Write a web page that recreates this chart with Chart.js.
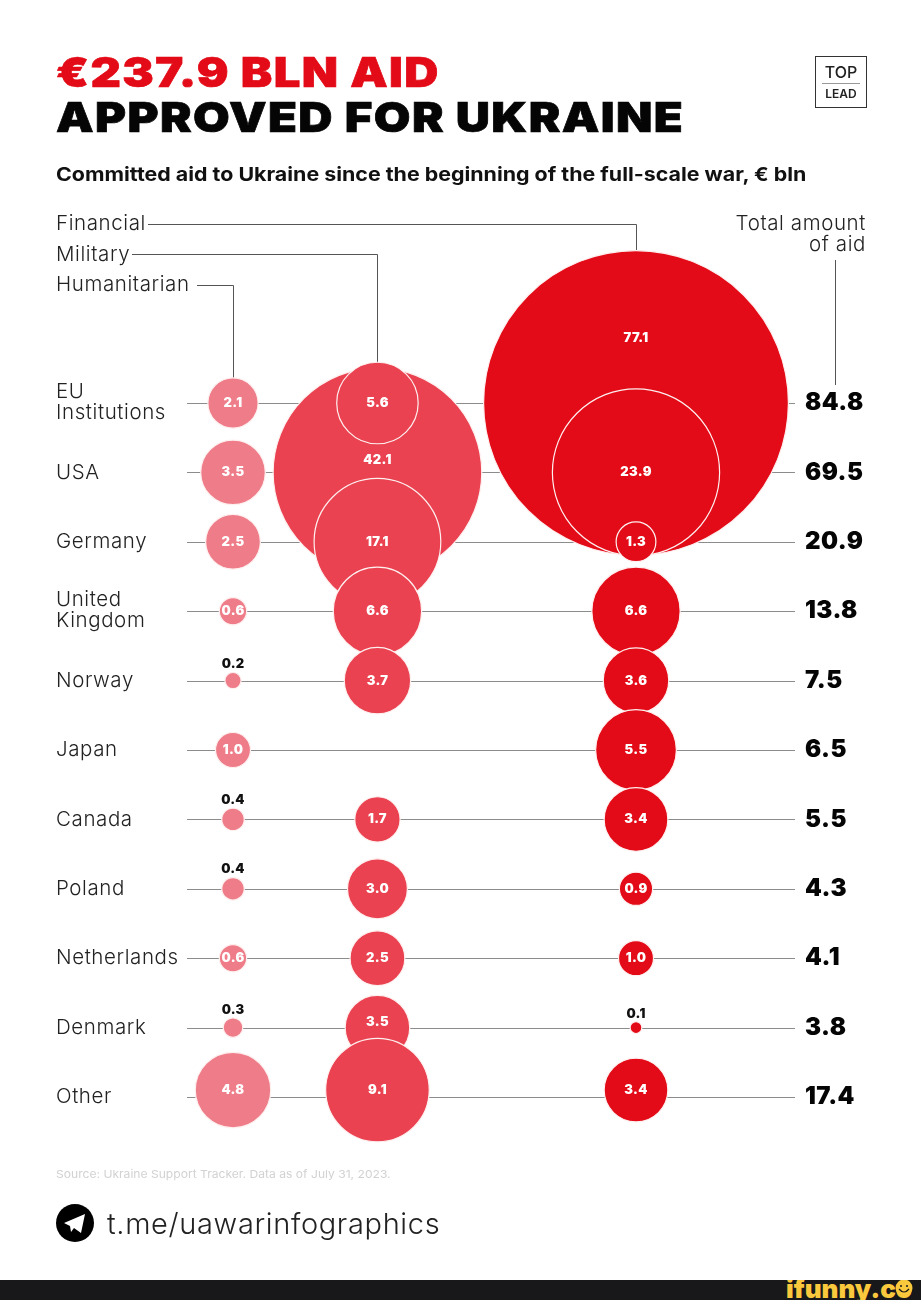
<!DOCTYPE html>
<html>
<head>
<meta charset="utf-8">
<title>Aid to Ukraine</title>
<script src="https://cdn.jsdelivr.net/npm/chart.js@4"></script>
<style>
  html, body { margin: 0; padding: 0; background: #fff; }
  body { width: 921px; height: 1300px; position: relative; overflow: hidden; font-family: Inter, sans-serif; }
  #chart { position: absolute; left: 0; top: 0; }
  .txt { position: absolute; white-space: nowrap; transform-origin: left center; }
  #t1 { left: 56px; top: 47px; font-size: 41px; line-height: 50px; font-weight: 900; color: #e30b17; letter-spacing: 1.2px; transform: scaleX(1.15); -webkit-text-stroke: 0.7px #e30b17; }
  #t2 { left: 56px; top: 92px; font-size: 41px; line-height: 50px; font-weight: 900; color: #050505; letter-spacing: 1.2px; transform: scaleX(1.155); -webkit-text-stroke: 0.7px #050505; }
  #sub { left: 56px; top: 162px; font-size: 19px; line-height: 26px; font-weight: 700; color: #111; transform: scaleX(1.126); }
  #logo { position: absolute; left: 815px; top: 56px; width: 50px; height: 50px; border: 1px solid #333; color: #222; text-align: center; }
  #logo .a { position: absolute; left: 0; right: 0; top: 5px; font-size: 16px; line-height: 20px; font-weight: 500; }
  #logo .b { position: absolute; left: 0; right: 0; top: 29px; font-size: 12px; line-height: 16px; font-weight: 600; }
  #logo .l { position: absolute; left: 6px; right: 6px; top: 26px; height: 1px; background: #999; }
  #src { left: 56px; top: 1167px; font-size: 11px; line-height: 14px; color: #d2d2d2; transform: scaleX(1.1); }
  #tg { left: 107px; top: 1206px; font-size: 29px; line-height: 36px; font-weight: 300; color: #222; letter-spacing: 0.65px; }
  #bar { position: absolute; left: 0; top: 1280px; width: 921px; height: 20px; background: #18181a; overflow: hidden; }
  #ifunny { position: absolute; left: 786px; top: -6px; font-size: 26px; line-height: 30px; font-weight: 900; color: #fac83c; }
</style>
</head>
<body>
<canvas id="chart" width="921" height="1300"></canvas>
<div class="txt" id="t1">€237.9 BLN AID</div>
<div class="txt" id="t2">APPROVED FOR UKRAINE</div>
<div class="txt" id="sub">Committed aid to Ukraine since the beginning of the full-scale war, € bln</div>
<div id="logo"><div class="a">TOP</div><div class="l"></div><div class="b">LEAD</div></div>
<div class="txt" id="src">Source: Ukraine Support Tracker. Data as of July 31, 2023.</div>
<svg style="position:absolute;left:56px;top:1204px" width="38" height="38" viewBox="0 0 38 38">
  <circle cx="19" cy="19" r="19" fill="#000"/>
  <path d="M8 19 L29 10 L25 29 L18 24 L15 28 L14 22 Z" fill="#fff"/>
</svg>
<div class="txt" id="tg">t.me/uawarinfographics</div>
<div id="bar">
  <div id="ifunny">ifunny.co</div>
  <svg style="position:absolute;left:894px;top:-2px" width="20" height="20" viewBox="0 0 20 20">
    <circle cx="10" cy="10" r="8.5" fill="#fac83c"/>
    <circle cx="7" cy="8" r="1" fill="#18181a"/>
    <circle cx="13" cy="8" r="1" fill="#18181a"/>
    <path d="M5 11 Q10 17 15 11" fill="none" stroke="#18181a" stroke-width="1.2"/>
  </svg>
</div>

<script>
// filas y valores
const countries = [['EU', 'Institutions'], ['USA'], ['Germany'], ['United', 'Kingdom'], ['Norway'], ['Japan'], ['Canada'], ['Poland'], ['Netherlands'], ['Denmark'], ['Other']];
const humanitarian = [2.1, 3.5, 2.5, 0.6, 0.2, 1.0, 0.4, 0.4, 0.6, 0.3, 4.8];
const military = [5.6, 42.1, 17.1, 6.6, 3.7, null, 1.7, 3.0, 2.5, 3.5, 9.1];
const financial = [77.1, 23.9, 1.3, 6.6, 3.6, 5.5, 3.4, 0.9, 1.0, 0.1, 3.4];
const totals = ['84.8', '69.5', '20.9', '13.8', '7.5', '6.5', '5.5', '4.3', '4.1', '3.8', '17.4'];
const rowLines = [0, 1, 2, 3, 4, 5, 6, 7, 8, 9, 10];
const rowMarks = [0, 1, 2, 3, 4, 5, 6, 7, 8, 9, 9.9];  // la fila Other va un poco mas arriba
const militaryOrder = [1, 0, 2, 3, 4, 5, 6, 7, 8, 9, 10];  // 5.6 se pinta encima de 42.1
const columns = [0, 1, 2.79];

const RED_LIGHT = '#ef7d89', RED_MID = '#ea4250', RED = '#e30b17';
const SANS = 'Inter, sans-serif';

// radio proporcional a la raiz del valor; las burbujas grandes se desvian un poco en el original
function radiusOf(v) {
  let k = 17;
  if (v === 77.1) k = 17.3;
  if (v === 42.1) k = 16;
  if (v === 17.1) k = 15.2;
  return k * Math.sqrt(v) + 0.5;
}

function points(values, col, order) {
  return (order || rowMarks.map((_, i) => i))
    .filter(i => values[i] !== null)
    .map(i => ({ x: columns[col], y: rowMarks[i], r: radiusOf(values[i]), v: values[i] }));
}

function text(ctx, str, x, y, font, color, align, spacing) {
  ctx.font = font;
  ctx.fillStyle = color;
  ctx.textAlign = align || 'left';
  ctx.textBaseline = 'middle';
  ctx.letterSpacing = (spacing || 0) + 'px';
  ctx.fillText(str, x, y);
  ctx.letterSpacing = '0px';
}

function polyline(ctx, pts) {
  ctx.beginPath();
  pts.forEach((p, i) => i ? ctx.lineTo(p[0], p[1]) : ctx.moveTo(p[0], p[1]));
  ctx.stroke();
}

// lineas de fila y rotulos de la izquierda, por debajo de las burbujas
const backdrop = {
  id: 'backdrop',
  beforeDatasetsDraw(chart) {
    const { ctx, scales: { x, y } } = chart;
    ctx.save();
    ctx.strokeStyle = '#8c8c8c';
    ctx.lineWidth = 1;
    rowLines.forEach(i => {
      const py = Math.round(y.getPixelForValue(i)) + 0.5;
      polyline(ctx, [[187, py], [795, py]]);
    });

    // guias de las columnas
    const cx = columns.map(c => Math.round(x.getPixelForValue(c)) + 0.5);
    ctx.strokeStyle = '#555';
    polyline(ctx, [[148, 224.5], [cx[2], 224.5], [cx[2], 252]]);
    polyline(ctx, [[132, 254.5], [cx[1], 254.5], [cx[1], 364]]);
    polyline(ctx, [[197, 285.5], [cx[0], 285.5], [cx[0], 378]]);
    polyline(ctx, [[835.5, 260], [835.5, 385]]);

    const lightFont = '300 20.5px ' + SANS;
    text(ctx, 'Financial', 56, 224, lightFont, '#222', 'left', 0.6);
    text(ctx, 'Military', 56, 255, lightFont, '#222', 'left', 0.6);
    text(ctx, 'Humanitarian', 56, 285, lightFont, '#222', 'left', 0.6);
    text(ctx, 'Total amount', 866, 224, lightFont, '#222', 'right', 0.6);
    text(ctx, 'of aid', 866, 245, lightFont, '#222', 'right', 0.6);

    countries.forEach((lines, i) => {
      const py = y.getPixelForValue(rowLines[i]);
      lines.forEach((s, j) => {
        const off = lines.length === 2 ? (j === 0 ? -11 : 10) : 0;
        text(ctx, s, 56, py + off, lightFont, '#222', 'left', 0.6);
      });
    });
    ctx.restore();
  }
};

// valores dentro de las burbujas y totales
const valueLabels = {
  id: 'valueLabels',
  afterDatasetsDraw(chart) {
    const { ctx, scales: { y } } = chart;
    ctx.save();
    chart.data.datasets.forEach((ds, d) => {
      chart.getDatasetMeta(d).data.forEach((el, i) => {
        const { v, r } = ds.data[i];
        const label = v.toFixed(1);
        if (v < 0.5) {
          text(ctx, label, el.x, el.y - r - 8, '900 13px ' + SANS, '#111', 'center', 0.2);
          return;
        }
        let dy = 0;
        if (v === 77.1) dy = -65;
        if (v === 42.1) dy = -12;
        if (v === 3.5 && d === 1) dy = -6;
        text(ctx, label, el.x, el.y + dy, '900 13px ' + SANS, '#fff', 'center', 0.3);
      });
    });
    totals.forEach((t, i) => {
      text(ctx, t, 805, y.getPixelForValue(rowLines[i]), '900 24px ' + SANS, '#050505', 'left', 0.5);
    });
    ctx.restore();
  }
};

function bubbleSet(label, data, color) {
  return { label, data, backgroundColor: color, borderColor: '#fff0f0', borderWidth: 1.2, clip: false, hoverRadius: 0 };
}

new Chart(document.getElementById('chart').getContext('2d'), {
  type: 'bubble',
  data: {
    datasets: [
      bubbleSet('Humanitarian', points(humanitarian, 0), RED_LIGHT),
      bubbleSet('Military', points(military, 1, militaryOrder), RED_MID),
      bubbleSet('Financial', points(financial, 2), RED)
    ]
  },
  options: {
    responsive: false,
    animation: false,
    events: [],
    layout: { padding: { left: 233, right: 285, top: 403, bottom: 203 } },
    plugins: { legend: { display: false }, tooltip: { enabled: false } },
    scales: {
      x: { type: 'linear', min: columns[0], max: columns[2], display: false },
      y: { type: 'linear', min: 0, max: 10, reverse: true, display: false }
    }
  },
  plugins: [backdrop, valueLabels]
});
</script>
</body>
</html>
